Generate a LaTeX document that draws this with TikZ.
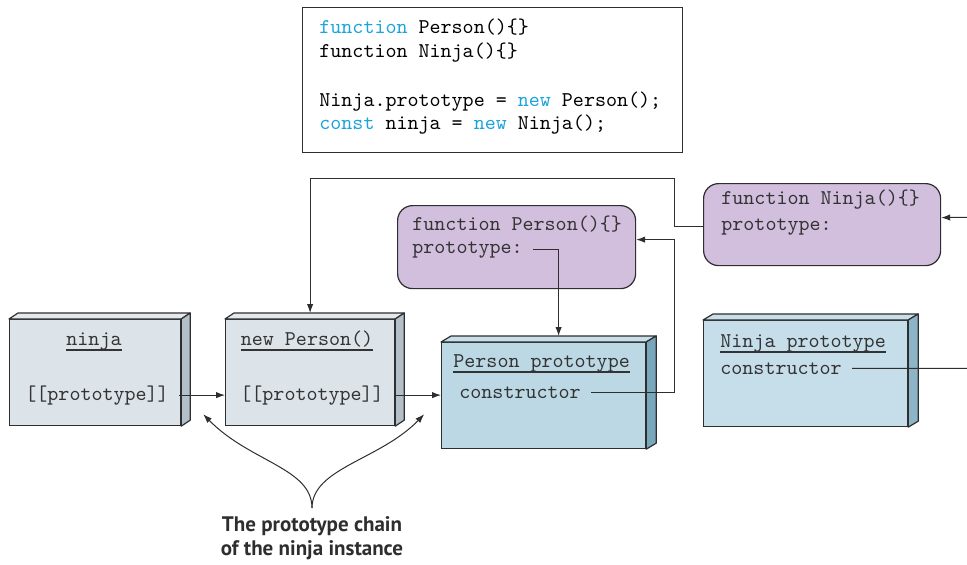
\documentclass[tikz,border=0pt]{standalone}
\usepackage{fontspec}
\newfontfamily\chainfont{PT Sans}
\usetikzlibrary{arrows.meta,positioning,calc}

\definecolor{linec}{HTML}{2E2E2E}
\definecolor{textc}{HTML}{333333}
\definecolor{codeblue}{HTML}{1BA3DB}
\definecolor{grayfront}{HTML}{DCE3E9}
\definecolor{graytop}{HTML}{E4E9EE}
\definecolor{grayside}{HTML}{B3BFC9}
\definecolor{bluefront}{HTML}{BCD8E5}
\definecolor{bluetop}{HTML}{C8DFEA}
\definecolor{blueside}{HTML}{78A6BA}
\definecolor{bluefrontB}{HTML}{C6DEEA}
\definecolor{bluesideB}{HTML}{8DB5C7}
\definecolor{funfill}{HTML}{D2BFDE}

\newcommand\codefont{\ttfamily\fontsize{10.5}{12}\selectfont}
\newcommand\ulined[1]{\setbox0\hbox{#1}\rlap{\rule[-2.8pt]{\wd0}{0.6pt}}\box0}

\begin{document}
\begin{tikzpicture}[x=0.5pt, y=-0.5pt, >={Latex[length=4.5pt,width=3.2pt]},
  line/.style={draw=linec, line width=0.5pt},
  face/.style={draw=linec, line width=0.6pt, line join=round},
  front/.style={draw=linec, line width=0.6pt, anchor=north west, inner sep=0pt, minimum height=53pt},
  fun/.style={draw=linec, line width=0.6pt, fill=funfill, rounded corners=7.5pt, anchor=north west, inner sep=0pt},
  txt/.style={anchor=base west, inner xsep=5pt, inner ysep=0pt, font=\codefont, text=textc},
  chainlab/.style={align=center, inner sep=0pt, font=\chainfont\bfseries\fontsize{10.5}{12}\selectfont, text=linec}]
\useasboundingbox (0,0) rectangle (967,564);

% code listing
\node[draw=linec, line width=0.6pt, anchor=north west, inner sep=0pt, minimum width=190pt, minimum height=72.5pt] (code) at (302,7) {};
\node[txt, text=black] (codeA) at (309,33) {{\color{codeblue}function} Person()\{\}};
\node[txt, text=black] (codeB) at (309,57) {function Ninja()\{\}};
\node[txt, text=black] (codeC) at (309,106) {Ninja.prototype = {\color{codeblue}new} Person();};
\node[txt, text=black] (codeD) at (309,129) {{\color{codeblue}const} ninja = {\color{codeblue}new} Ninja();};

% constructor functions
\node[fun, minimum width=119pt, minimum height=41.5pt] (pfun) at (397,205) {};
\node[txt] (pfunName) at (402,230) {function Person()\{\}};
\node[txt] (pfunProto) at (402,253) {prototype:};
\node[fun, minimum width=118.5pt, minimum height=41pt] (nfun) at (703,183) {};
\node[txt] (nfunName) at (711,204) {function Ninja()\{\}};
\node[txt] (nfunProto) at (711,230) {prototype:};

% ninja instance
\node[front, fill=grayfront, minimum width=85.5pt] (ninja) at (9,319) {};
\filldraw[face, fill=graytop] (ninja.north west) -- ++(9,-6) -- ($(ninja.north east)+(9,-6)$) -- (ninja.north east) -- cycle;
\filldraw[face, fill=grayside] (ninja.north east) -- ++(9,-6) -- ($(ninja.south east)+(9,-6)$) -- (ninja.south east) -- cycle;
\node[txt, anchor=base] (ninjaTitle) at (94,345) {\ulined{ninja}};
\node[txt] (ninjaSlot) at (15,400) {[[prototype]]};

% new Person()
\node[front, fill=grayfront, minimum width=84.5pt] (newp) at (225,319) {};
\filldraw[face, fill=graytop] (newp.north west) -- ++(9,-6) -- ($(newp.north east)+(9,-6)$) -- (newp.north east) -- cycle;
\filldraw[face, fill=grayside] (newp.north east) -- ++(9,-6) -- ($(newp.south east)+(9,-6)$) -- (newp.south east) -- cycle;
\node[txt, anchor=base] (newpTitle) at (307,345) {\ulined{new Person()}};
\node[txt] (newpSlot) at (230,400) {[[prototype]]};

% Person prototype
\node[front, fill=bluefront, minimum width=102pt] (pproto) at (441,342) {};
\filldraw[face, fill=bluetop] (pproto.north west) -- ++(10,-6) -- ($(pproto.north east)+(10,-6)$) -- (pproto.north east) -- cycle;
\filldraw[face, fill=blueside] (pproto.north east) -- ++(10,-6) -- ($(pproto.south east)+(10,-6)$) -- (pproto.south east) -- cycle;
\node[txt] (pprotoTitle) at (443,367) {\ulined{Person prototype}};
\node[txt] (pprotoCtor) at (449,398) {constructor};

% Ninja prototype
\node[front, fill=bluefrontB, minimum width=102pt] (nproto) at (703,320) {};
\filldraw[face, fill=bluetop] (nproto.north west) -- ++(10,-6) -- ($(nproto.north east)+(10,-6)$) -- (nproto.north east) -- cycle;
\filldraw[face, fill=bluesideB] (nproto.north east) -- ++(10,-6) -- ($(nproto.south east)+(10,-6)$) -- (nproto.south east) -- cycle;
\node[txt] (nprotoTitle) at (710,347) {\ulined{Ninja prototype}};
\node[txt] (nprotoCtor) at (710,374) {constructor};

% links
\coordinate (loopTop) at (674,178);
\coordinate (offRight) at (990,217);
\draw[line, ->] (ninjaSlot.east) -- (ninjaSlot.east -| newp.west);
\draw[line, ->] (newpSlot.east) -- (newpSlot.east -| pproto.west);
\draw[line, ->] (pfunProto.east) -| ([xshift=7.5pt, yshift=3pt]pproto.north);
\draw[line, ->] (pprotoCtor.east) -| ([xshift=19pt, yshift=3.75pt]pfun.east) -- ([yshift=3.75pt]pfun.east);
\draw[line, ->] (nfunProto.west -| nfun.west) -| (loopTop) -| ([yshift=3pt]newp.north);
\draw[line, ->] (nprotoCtor.east) -| (offRight) -- ([yshift=3.5pt]nfun.east);

% prototype chain
\coordinate (chainTip) at (312,508);
\draw[line, ->] (chainTip) .. controls (312,468) and (250,462) .. ([xshift=11pt, yshift=6pt]ninja.south east);
\draw[line, ->] (chainTip) .. controls (312,468) and (380,460) .. ([xshift=14.5pt, yshift=6pt]newp.south east);
\node[chainlab, below=4pt of chainTip] (chain) {The prototype chain\\of the ninja instance};
\end{tikzpicture}
\end{document}
